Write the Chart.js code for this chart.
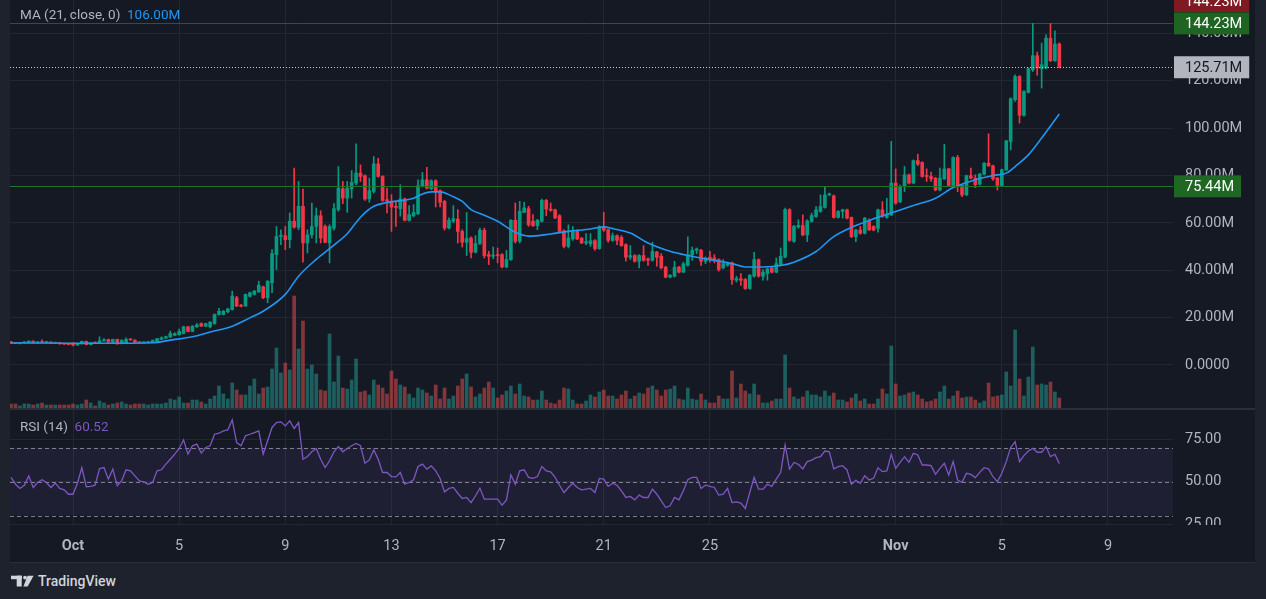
<!DOCTYPE html>
<html>
<head>
<meta charset="utf-8">
<title>MA / RSI 4h chart</title>
<script src="https://cdn.jsdelivr.net/npm/chart.js@4.4.1/dist/chart.umd.min.js"></script>
<style>
  body { margin: 0; width: 1266px; height: 599px; overflow: hidden; background: #1e222d; font-family: Roboto, sans-serif; }
  #pane { position: absolute; left: 10px; top: 0; width: 1245px; height: 562px; background: #151924; }
  #priceBox { position: absolute; left: 0; top: 0; width: 1245px; height: 408px; }
  #sep { position: absolute; left: 0; top: 408px; width: 1245px; height: 2px; background: #2a2e39; }
  #rsiBox { position: absolute; left: 0; top: 410px; width: 1245px; height: 152px; }
  #bottomLine { position: absolute; left: 10px; top: 562px; width: 1245px; height: 1px; background: #2a2e39; }
  .legend { position: absolute; left: 10px; font-size: 13.5px; color: #b2b5be; white-space: nowrap; }
  #logo { position: absolute; left: 11px; top: 573px; display: flex; align-items: center; color: #d1d4dc; font-size: 14px; font-weight: 500; }
</style>
</head>
<body>
<div id="pane">
  <div id="priceBox"><canvas id="priceChart" width="1245" height="408"></canvas></div>
  <div id="sep"></div>
  <div id="rsiBox"><canvas id="rsiChart" width="1245" height="152"></canvas></div>
  <div class="legend" style="top:6px">MA (21, close, 0)&nbsp;&nbsp;<span style="color:#2196f3">106.00M</span></div>
  <div class="legend" style="top:418px">RSI (14)&nbsp;&nbsp;<span style="color:#7e57c2">60.52</span></div>
</div>
<div id="bottomLine"></div>
<div id="logo">
  <svg width="23" height="13" viewBox="0 0 23 13" style="margin-right:4px">
    <rect x="0" y="0.7" width="11" height="3.5" fill="#d1d4dc"/>
    <rect x="5.7" y="0.7" width="5" height="10.8" fill="#d1d4dc"/>
    <circle cx="14" cy="2.6" r="1.9" fill="#d1d4dc"/>
    <polygon points="16.6,0.7 22.6,0.7 16.6,11.5 12.4,11.5" fill="#d1d4dc"/>
  </svg>
  <span>TradingView</span>
</div>

<script>
// 4h candles, index 0 = Oct 1 00:00, values in millions
const firstIndex = -14;

const opens = [
  9.8, 9.4, 9.1, 9.4, 9.4, 10.1, 9.3, 9.8, 9.5, 9.7,
  9.2, 9.5, 8.9, 9.0, 9.3, 8.4, 8.9, 10.0, 8.6, 9.4,
  9.2, 10.2, 10.8, 9.6, 10.8, 9.0, 9.4, 10.8, 10.5, 9.6,
  9.4, 9.5, 9.5, 10.0, 10.8, 11.3, 11.8, 12.5, 12.8, 13.3,
  16.1, 14.2, 16.1, 17.5, 16.4, 16.1, 17.4, 21.3, 21.3, 22.5,
  23.4, 28.4, 25.2, 24.9, 29.0, 29.8, 30.9, 33.0, 28.4, 34.7,
  46.6, 54.3, 54.6, 52.9, 60.7, 58.1, 67.0, 51.5, 55.0, 58.5,
  63.0, 58.5, 51.5, 57.8, 65.6, 74.4, 70.5, 74.4, 76.8, 81.0,
  79.9, 70.1, 73.3, 84.9, 79.6, 69.8, 69.1, 66.7, 66.0, 70.1,
  61.1, 63.0, 63.9, 75.4, 78.2, 74.4, 77.8, 73.6, 69.1, 57.8,
  60.7, 61.6, 56.4, 51.8, 53.6, 47.6, 51.3, 56.9, 46.6, 45.9,
  46.4, 46.6, 41.4, 44.5, 61.1, 52.2, 64.4, 66.0, 60.7, 58.8,
  60.7, 69.5, 65.8, 65.5, 63.0, 56.7, 50.1, 53.2, 56.7, 53.5,
  51.5, 51.2, 52.5, 49.1, 58.3, 57.1, 52.6, 54.6, 53.9, 50.8,
  45.5, 46.2, 43.8, 46.2, 44.8, 44.2, 47.7, 45.9, 41.3, 37.1,
  37.5, 41.3, 39.2, 42.1, 46.5, 48.4, 48.4, 43.8, 45.5, 45.2,
  44.5, 41.0, 42.0, 43.1, 35.8, 36.4, 36.1, 32.3, 37.5, 44.5,
  37.5, 38.6, 41.0, 39.2, 42.4, 45.6, 65.6, 52.2, 58.3, 58.9,
  54.9, 60.6, 62.7, 64.8, 66.5, 71.8, 71.4, 62.3, 64.8, 65.5,
  62.3, 54.2, 57.0, 55.6, 60.6, 58.5, 57.7, 65.5, 62.3, 63.4,
  76.8, 68.9, 75.4, 80.3, 76.8, 86.3, 85.5, 79.9, 79.6, 78.9,
  73.9, 78.6, 82.8, 75.8, 87.6, 75.8, 71.8, 79.9, 78.9, 76.3,
  80.6, 85.2, 84.1, 78.9, 75.8, 82.4, 94.4, 112.0, 121.8, 105.4,
  115.1, 124.6, 130.6, 125.1, 125.4, 138.0, 128.5, 135.5
];
const highs = [
  9.9, 9.5, 9.6, 9.8, 10.2, 10.2, 9.9, 10.6, 9.9, 9.8,
  9.6, 9.6, 9.1, 9.1, 9.4, 9.1, 10.1, 10.1, 9.6, 9.8,
  11.9, 11.1, 10.9, 10.9, 10.9, 10.6, 11.5, 11.1, 10.6, 9.8,
  9.7, 9.8, 10.6, 11.3, 11.9, 12.2, 14.3, 13.6, 15.2, 16.4,
  16.3, 16.6, 17.5, 17.8, 17.7, 18.3, 21.6, 23.9, 23.0, 24.0,
  31.2, 29.0, 25.6, 30.0, 30.8, 31.5, 35.4, 33.3, 35.6, 48.7,
  58.5, 57.1, 58.5, 64.2, 83.1, 77.5, 74.3, 57.1, 68.4, 66.3,
  65.1, 59.2, 59.2, 68.1, 83.8, 77.5, 77.5, 82.1, 93.4, 84.5,
  80.3, 78.9, 88.0, 87.3, 79.9, 74.7, 71.9, 69.1, 76.1, 70.5,
  67.3, 67.7, 78.2, 81.3, 83.5, 78.2, 78.2, 74.0, 69.5, 62.1,
  67.3, 65.6, 57.1, 64.4, 54.1, 54.6, 57.8, 57.8, 48.0, 49.8,
  49.4, 47.0, 48.4, 61.4, 68.4, 69.1, 68.7, 67.0, 63.5, 61.5,
  70.0, 69.9, 68.4, 65.8, 63.5, 57.1, 59.2, 58.5, 57.1, 53.9,
  55.5, 55.5, 53.0, 58.8, 64.4, 57.4, 55.7, 55.0, 54.6, 51.2,
  50.4, 46.6, 46.6, 50.4, 45.2, 51.8, 48.0, 47.0, 41.7, 38.2,
  43.8, 41.7, 43.4, 54.1, 49.8, 49.4, 48.8, 45.6, 48.0, 46.6,
  44.8, 44.5, 43.4, 43.4, 37.5, 38.6, 36.5, 38.2, 47.6, 44.8,
  40.3, 41.0, 41.3, 45.2, 49.4, 66.3, 66.0, 59.0, 61.3, 63.4,
  61.3, 64.1, 66.9, 71.8, 75.4, 72.6, 71.8, 65.2, 65.8, 65.8,
  62.5, 57.3, 58.5, 62.3, 61.7, 58.8, 65.8, 69.0, 70.4, 94.4,
  82.8, 76.0, 83.8, 80.6, 86.6, 89.0, 85.8, 82.8, 81.4, 79.2,
  83.1, 93.2, 83.1, 87.9, 88.5, 76.1, 80.2, 83.1, 80.3, 80.9,
  85.5, 97.6, 84.4, 79.2, 82.7, 94.9, 112.8, 122.5, 122.2, 115.9,
  125.5, 144.23, 132.1, 135.9, 139.4, 144.2, 141.1, 136.0
];
const lows = [
  9.0, 9.0, 8.9, 9.3, 9.3, 9.2, 9.2, 9.4, 9.3, 9.1,
  9.0, 8.8, 8.7, 8.5, 8.1, 8.3, 8.8, 8.5, 8.5, 9.0,
  9.0, 10.1, 9.5, 9.4, 8.8, 8.9, 9.3, 10.4, 9.4, 9.3,
  9.3, 9.4, 9.4, 9.9, 10.7, 11.2, 11.6, 12.3, 12.6, 13.1,
  14.0, 14.0, 15.9, 16.2, 16.2, 15.6, 17.2, 21.0, 21.1, 22.0,
  23.2, 24.6, 24.5, 24.7, 28.6, 29.5, 30.6, 28.0, 26.3, 30.5,
  40.3, 50.8, 48.7, 49.4, 57.8, 57.1, 43.4, 47.3, 53.6, 51.5,
  51.5, 51.5, 43.1, 56.9, 64.9, 68.1, 64.4, 70.5, 76.1, 77.5,
  69.5, 68.7, 72.6, 79.3, 69.1, 64.2, 56.4, 58.5, 62.8, 60.8,
  60.7, 62.5, 63.5, 75.1, 74.3, 74.0, 66.7, 66.7, 56.9, 57.4,
  60.0, 51.5, 49.8, 46.2, 45.2, 47.3, 50.8, 45.2, 42.4, 44.8,
  43.1, 41.0, 41.0, 44.2, 51.5, 51.5, 64.2, 58.5, 58.5, 57.1,
  60.3, 63.0, 64.9, 61.8, 56.0, 49.4, 49.4, 52.6, 52.9, 51.2,
  50.8, 50.1, 48.4, 48.8, 56.4, 51.8, 52.2, 50.8, 50.1, 43.8,
  44.5, 43.4, 41.0, 43.8, 42.0, 43.8, 41.7, 40.6, 36.8, 36.8,
  37.1, 38.9, 38.9, 41.7, 44.2, 47.0, 42.0, 42.8, 43.4, 43.1,
  39.6, 40.6, 41.7, 34.0, 35.0, 33.6, 31.9, 32.0, 37.1, 37.1,
  35.8, 35.8, 38.9, 38.9, 42.1, 45.2, 52.2, 51.8, 57.7, 54.6,
  52.1, 60.3, 62.3, 64.5, 66.2, 71.4, 62.0, 62.0, 62.0, 61.7,
  53.8, 52.1, 55.2, 55.3, 56.8, 56.6, 56.1, 62.3, 62.0, 63.0,
  67.9, 68.5, 73.2, 76.5, 76.5, 84.2, 79.3, 77.5, 77.5, 73.5,
  73.5, 78.3, 75.5, 75.5, 73.2, 71.1, 71.5, 78.6, 74.9, 76.0,
  80.3, 83.8, 77.9, 73.9, 75.5, 82.1, 90.8, 111.3, 102.1, 105.0,
  114.8, 123.9, 122.3, 116.9, 125.0, 128.1, 128.2, 125.4
];
const closes = [
  9.1, 9.1, 9.4, 9.6, 10.1, 9.3, 9.8, 9.5, 9.7, 9.2,
  9.5, 8.9, 8.8, 8.6, 8.4, 9.0, 10.0, 8.6, 9.4, 9.2,
  10.2, 10.5, 9.6, 10.8, 8.9, 10.5, 10.8, 10.6, 9.5, 9.4,
  9.5, 9.6, 10.4, 11.1, 11.5, 12.0, 13.3, 13.3, 14.2, 16.1,
  14.2, 16.4, 16.9, 16.4, 17.5, 18.1, 21.3, 22.7, 22.7, 23.6,
  29.1, 24.9, 24.8, 29.8, 30.5, 31.2, 33.7, 28.4, 35.4, 47.0,
  54.3, 54.8, 52.9, 60.7, 58.2, 67.0, 51.5, 55.0, 58.5, 63.0,
  53.6, 51.8, 58.5, 66.0, 74.7, 70.5, 74.7, 77.1, 81.0, 79.6,
  70.1, 73.6, 84.9, 79.6, 69.5, 69.1, 66.7, 66.5, 70.1, 61.1,
  63.5, 64.4, 75.7, 78.2, 74.7, 77.8, 73.3, 68.7, 57.8, 61.1,
  61.8, 56.4, 51.8, 53.4, 47.6, 51.3, 56.9, 46.2, 45.9, 46.4,
  46.2, 41.4, 44.5, 61.1, 52.2, 64.9, 66.3, 59.2, 58.8, 61.1,
  69.5, 65.8, 65.3, 62.1, 56.4, 50.1, 53.6, 56.7, 53.2, 51.5,
  52.1, 52.5, 49.1, 58.3, 56.9, 52.6, 54.6, 52.6, 50.4, 45.5,
  46.2, 43.8, 46.2, 44.2, 44.2, 48.0, 45.5, 41.0, 37.1, 37.9,
  41.3, 39.2, 42.7, 46.6, 48.4, 49.0, 43.8, 45.2, 44.8, 44.5,
  40.3, 42.8, 42.8, 36.1, 36.5, 35.8, 32.3, 37.9, 44.5, 37.5,
  39.2, 40.6, 39.2, 42.8, 45.9, 65.6, 52.6, 58.5, 59.0, 54.9,
  60.8, 63.1, 65.5, 66.9, 71.8, 72.2, 62.3, 64.8, 65.5, 62.0,
  54.2, 57.0, 55.6, 62.0, 57.0, 57.0, 65.5, 62.7, 63.7, 76.8,
  68.3, 75.4, 80.3, 76.8, 86.3, 84.8, 79.6, 79.6, 78.6, 73.9,
  78.9, 82.8, 75.8, 87.6, 75.8, 71.8, 79.9, 78.9, 76.1, 80.6,
  85.2, 84.1, 78.6, 75.8, 82.4, 94.6, 112.4, 121.8, 105.4, 115.5,
  125.1, 130.6, 125.4, 126.8, 138.0, 128.5, 135.5, 125.71
];
const volumes = [
  4, 4, 2, 4, 4, 3, 4, 5, 3, 3,
  3, 3, 3, 3, 4, 3, 4, 8, 5, 2,
  7, 5, 3, 4, 5, 6, 4, 3, 4, 4,
  4, 3, 4, 4, 4, 5, 9, 8, 11, 5,
  5, 8, 8, 6, 4, 9, 12, 22, 14, 9,
  25, 18, 13, 13, 22, 29, 14, 20, 21, 39,
  60, 35, 45, 38, 112, 59, 87, 39, 43, 34,
  18, 17, 74, 26, 52, 20, 19, 28, 49, 16,
  17, 13, 28, 23, 20, 14, 37, 29, 23, 21,
  14, 10, 20, 18, 15, 12, 23, 9, 20, 9,
  12, 22, 29, 34, 21, 11, 14, 20, 26, 20,
  10, 13, 17, 22, 14, 24, 12, 11, 8, 8,
  17, 8, 5, 4, 8, 20, 19, 8, 4, 4,
  7, 13, 11, 16, 18, 12, 12, 9, 13, 17,
  9, 12, 15, 14, 20, 22, 18, 12, 18, 19,
  22, 9, 8, 20, 9, 8, 14, 8, 5, 5,
  12, 9, 9, 37, 10, 24, 17, 14, 24, 13,
  5, 5, 7, 9, 9, 53, 20, 11, 9, 11,
  17, 13, 13, 11, 17, 12, 15, 8, 8, 6,
  10, 14, 7, 9, 4, 4, 9, 19, 14, 62,
  24, 12, 13, 15, 16, 13, 9, 6, 7, 9,
  16, 22, 9, 12, 17, 10, 11, 11, 8, 5,
  7, 25, 11, 12, 13, 36, 22, 78, 29, 12,
  31, 61, 23, 24, 23, 26, 16, 10
];
const rsiValues = [
  52.4, 48.4, 45.9, 47.8, 53.3, 46.5, 49.4, 51.0, 49.4, 46.5,
  49.0, 45.9, 45.1, 42.5, 42.5, 49.0, 58.2, 46.9, 47.1, 47.8,
  57.6, 58.2, 51.4, 57.3, 47.5, 50.4, 56.9, 56.3, 53.3, 50.4,
  49.8, 48.4, 49.4, 56.3, 56.9, 60.2, 63.1, 66.1, 69.4, 74.5,
  66.1, 71.0, 72.0, 66.7, 70.0, 71.0, 77.8, 78.4, 79.8, 80.4,
  86.3, 72.9, 71.0, 76.9, 77.8, 78.8, 79.8, 66.1, 74.0, 81.8,
  84.7, 85.1, 82.7, 85.7, 81.2, 84.7, 63.1, 64.7, 67.5, 69.4,
  63.1, 58.2, 62.2, 67.5, 70.6, 67.5, 69.4, 71.0, 72.4, 71.0,
  60.8, 62.7, 68.6, 63.1, 55.3, 55.3, 52.9, 52.7, 55.3, 48.4,
  49.4, 51.0, 58.8, 60.2, 57.3, 59.2, 56.3, 51.8, 43.9, 45.9,
  46.5, 43.1, 40.0, 40.6, 37.6, 41.6, 46.1, 39.6, 39.6, 39.6,
  39.6, 36.1, 39.2, 53.9, 48.4, 56.3, 56.9, 52.4, 51.8, 52.9,
  58.8, 56.3, 55.7, 52.4, 47.8, 43.5, 46.5, 49.0, 46.5, 45.1,
  45.5, 45.9, 43.5, 51.8, 51.4, 47.1, 49.0, 47.8, 44.5, 40.6,
  41.2, 39.2, 42.0, 40.6, 40.6, 45.5, 42.5, 38.6, 34.7, 35.7,
  40.6, 39.2, 44.5, 51.0, 52.4, 52.4, 45.9, 47.8, 47.1, 46.5,
  42.0, 42.5, 45.9, 37.6, 38.0, 37.3, 34.1, 43.5, 52.4, 45.5,
  45.5, 48.4, 47.1, 51.4, 55.3, 71.4, 57.3, 61.2, 60.1, 57.4,
  61.7, 62.6, 64.0, 64.6, 67.9, 67.5, 57.4, 58.7, 59.3, 56.8,
  48.3, 50.7, 48.9, 53.4, 50.9, 51.9, 58.1, 55.8, 56.2, 66.0,
  57.7, 61.3, 64.6, 61.3, 66.6, 65.6, 59.7, 59.7, 59.3, 54.2,
  57.7, 60.7, 53.8, 61.7, 50.9, 49.5, 54.8, 54.2, 52.3, 55.4,
  58.1, 57.4, 52.8, 49.9, 54.8, 61.7, 69.9, 73.4, 61.7, 65.2,
  67.9, 69.5, 67.2, 67.2, 70.5, 64.6, 66.0, 60.5
];

// MA(21) read at a set of candle indices
const maIndex = [
  -14, 0, 11, 18, 22, 27, 31, 36, 40, 43,
  48, 51, 55, 59, 62, 65, 68, 71, 77, 79,
  81, 83, 86, 88, 90, 93, 96, 100, 103, 108,
  112, 117, 120, 122, 126, 130, 135, 139, 144, 149,
  152, 156, 160, 163, 168, 172, 177, 181, 186, 190,
  195, 199, 204, 208, 211, 213, 216, 219, 223
];
const maValues = [
  9.3, 9.2, 9.2, 9.4, 10.5, 11.9, 13.9, 16.4, 19.9, 22.7,
  29.8, 37.5, 44.6, 50.6, 55.4, 62.4, 67.0, 68.6, 70.4, 72.2,
  73.1, 73.1, 71.0, 69.1, 65.6, 63.2, 60.7, 56.0, 54.4, 55.3,
  56.4, 57.4, 58.3, 57.6, 55.7, 51.5, 48.0, 46.2, 44.5, 42.8,
  41.4, 41.4, 42.0, 43.4, 47.9, 54.2, 58.9, 61.7, 64.8, 67.3,
  70.4, 74.9, 78.2, 80.0, 81.0, 83.8, 88.7, 95.8, 106.0
];

const dayTicks = [0, 24, 48, 72, 96, 120, 144, 186, 210, 234];
const dayLabels = ["Oct", "5", "9", "13", "17", "21", "25", "Nov", "5", "9"];
const priceTicks = [0, 20, 40, 60, 80, 100, 120, 140];
const priceTickLabels = ["0.0000", "20.00M", "40.00M", "60.00M", "80.00M", "100.00M", "120.00M", "140.00M"];
const rsiTicks = [25, 50, 75];
const rsiTickLabels = ["25.00", "50.00", "75.00"];
const rsiLevels = [70, 50, 30];

const highPrice = 144.23;
const lastPrice = 125.71;
const levelPrice = 75.44;

// view / style
const xMin = -14.244, xMax = 248.70;
const priceMin = -18.16, priceMax = 154.1;
const rsiMin = 25, rsiMax = 92.06;
const volScaleMax = 408;
const upColor = "#089981", downColor = "#f23645";
const upVol = "rgba(38,166,154,0.5)", downVol = "rgba(239,83,80,0.5)";
const gridColor = "#232733";
const textColor = "#b2b5be";
const paneBg = "#151924";
const axisWidth = 82;
const font = { family: "Roboto, sans-serif", size: 14.5 };

const candleIdx = opens.map((_, k) => firstIndex + k);
const isUp = (k) => closes[k] >= opens[k];

// keep the plot area flush with the canvas edges
function noPad(a) {
  a.paddingTop = 0; a.paddingBottom = 0; a.paddingLeft = 0; a.paddingRight = 0;
}

function drawTag(ctx, x, yMid, text, bg, fg) {
  ctx.save();
  ctx.font = "14.5px Roboto, sans-serif";
  const w = ctx.measureText(text).width + 18;
  ctx.fillStyle = bg;
  ctx.fillRect(x, yMid - 11, w, 22);
  ctx.fillStyle = fg;
  ctx.textBaseline = "middle";
  ctx.fillText(text, x + 11, yMid + 1);
  ctx.restore();
}

// price lines and tags on the right axis
const priceTags = {
  id: "priceTags",
  afterDatasetsDraw(chart) {
    const { ctx, chartArea, scales } = chart;
    const yHigh = scales.y.getPixelForValue(highPrice);
    const yLast = scales.y.getPixelForValue(lastPrice);
    const yLevel = scales.y.getPixelForValue(levelPrice);
    ctx.save();
    ctx.lineWidth = 1;
    ctx.strokeStyle = "rgba(242,54,69,0.5)";
    ctx.beginPath();
    ctx.moveTo(chartArea.left, Math.round(yHigh) + 0.5);
    ctx.lineTo(chartArea.right, Math.round(yHigh) + 0.5);
    ctx.stroke();
    ctx.strokeStyle = "#217328";
    ctx.beginPath();
    ctx.moveTo(chartArea.left, Math.round(yLevel) + 0.5);
    ctx.lineTo(chartArea.right, Math.round(yLevel) + 0.5);
    ctx.stroke();
    ctx.strokeStyle = "#c8cad1";
    ctx.setLineDash([1, 2]);
    ctx.beginPath();
    ctx.moveTo(chartArea.left, Math.round(yLast) + 0.5);
    ctx.lineTo(chartArea.right, Math.round(yLast) + 0.5);
    ctx.stroke();
    ctx.restore();
  },
  afterDraw(chart) {
    const { ctx, chartArea, scales } = chart;
    const x = chartArea.right + 1;
    drawTag(ctx, x, chartArea.top + 1, highPrice.toFixed(2) + "M", "#801a22", "#ffffff");
    drawTag(ctx, x, scales.y.getPixelForValue(highPrice), highPrice.toFixed(2) + "M", "#1e6423", "#ffffff");
    drawTag(ctx, x, scales.y.getPixelForValue(lastPrice), lastPrice.toFixed(2) + "M", "#b2b5be", "#131722");
    drawTag(ctx, x, scales.y.getPixelForValue(levelPrice), levelPrice.toFixed(2) + "M", "#1e6823", "#ffffff");
  }
};

new Chart(document.getElementById("priceChart"), {
  type: "bar",
  data: {
    datasets: [
      {
        type: "line",
        label: "MA",
        data: maIndex.map((x, k) => ({ x: x, y: maValues[k] })),
        yAxisID: "y",
        borderColor: "#2196f3",
        borderWidth: 1.6,
        pointRadius: 0,
        cubicInterpolationMode: "monotone",
        order: 0,
      },
      {
        label: "body",
        data: candleIdx.map((x, k) => ({ x: x, y: [opens[k], closes[k]] })),
        yAxisID: "y",
        backgroundColor: (c) => (isUp(c.dataIndex) ? upColor : downColor),
        barThickness: 3,
        minBarLength: 1,
        grouped: false,
        order: 1,
      },
      {
        label: "wick",
        data: candleIdx.map((x, k) => ({ x: x, y: [lows[k], highs[k]] })),
        yAxisID: "y",
        backgroundColor: (c) => (isUp(c.dataIndex) ? upColor : downColor),
        barThickness: 1,
        grouped: false,
        order: 2,
      },
      {
        label: "volume",
        data: candleIdx.map((x, k) => ({ x: x, y: volumes[k] })),
        yAxisID: "yVol",
        backgroundColor: (c) => (isUp(c.dataIndex) ? upVol : downVol),
        barThickness: 3,
        grouped: false,
        order: 3,
      },
    ],
  },
  options: {
    responsive: false,
    animation: false,
    layout: { padding: 0 },
    plugins: { legend: { display: false }, tooltip: { enabled: false } },
    scales: {
      x: {
        type: "linear",
        min: xMin,
        max: xMax,
        offset: false,
        afterBuildTicks: (a) => { a.ticks = dayTicks.map((v) => ({ value: v })); },
        afterFit: (a) => { a.height = 0; noPad(a); },
        ticks: { display: false },
        grid: { color: gridColor, drawTicks: false, offset: false },
        border: { display: false },
      },
      y: {
        type: "linear",
        position: "right",
        min: priceMin,
        max: priceMax,
        afterBuildTicks: (a) => { a.ticks = priceTicks.map((v) => ({ value: v })); },
        afterFit: (a) => { a.width = axisWidth; noPad(a); },
        ticks: { callback: (v, i) => priceTickLabels[i], color: textColor, font: font, padding: 12 },
        grid: { color: gridColor, drawTicks: false },
        border: { display: false },
      },
      yVol: { display: false, min: 0, max: volScaleMax, afterFit: noPad },
    },
  },
  plugins: [priceTags],
});

// RSI band, levels and clipped axis corner
const rsiBand = {
  id: "rsiBand",
  beforeDatasetsDraw(chart) {
    const { ctx, chartArea, scales } = chart;
    const y70 = scales.y.getPixelForValue(70);
    const y30 = scales.y.getPixelForValue(30);
    ctx.save();
    ctx.fillStyle = "rgba(126,87,194,0.1)";
    ctx.fillRect(chartArea.left, y70, chartArea.right - chartArea.left, y30 - y70);
    ctx.strokeStyle = "rgba(178,181,190,0.65)";
    ctx.lineWidth = 1;
    ctx.setLineDash([4, 3]);
    rsiLevels.forEach((lv) => {
      const y = Math.round(scales.y.getPixelForValue(lv)) + 0.5;
      ctx.beginPath();
      ctx.moveTo(chartArea.left, y);
      ctx.lineTo(chartArea.right, y);
      ctx.stroke();
    });
    ctx.restore();
  },
  afterDraw(chart) {
    const { ctx, chartArea, width, height } = chart;
    ctx.save();
    ctx.fillStyle = paneBg;
    ctx.fillRect(chartArea.right, chartArea.bottom + 1, width - chartArea.right, height - chartArea.bottom);
    ctx.restore();
  }
};

new Chart(document.getElementById("rsiChart"), {
  type: "line",
  data: {
    datasets: [
      {
        label: "RSI",
        data: candleIdx.map((x, k) => ({ x: x, y: rsiValues[k] })),
        borderColor: "#7e57c2",
        borderWidth: 1.3,
        pointRadius: 0,
        tension: 0,
      },
    ],
  },
  options: {
    responsive: false,
    animation: false,
    layout: { padding: 0 },
    plugins: { legend: { display: false }, tooltip: { enabled: false } },
    scales: {
      x: {
        type: "linear",
        min: xMin,
        max: xMax,
        afterBuildTicks: (a) => { a.ticks = dayTicks.map((v) => ({ value: v })); },
        afterFit: (a) => { a.height = 38; noPad(a); },
        ticks: {
          autoSkip: false,
          maxRotation: 0,
          callback: (v, i) => dayLabels[i],
          color: textColor,
          font: (c) => ({ family: font.family, size: 14.5, weight: isNaN(dayLabels[c.index]) ? "bold" : "normal" }),
          padding: 14,
        },
        grid: { color: gridColor, drawTicks: false },
        border: { display: false },
      },
      y: {
        type: "linear",
        position: "right",
        min: rsiMin,
        max: rsiMax,
        afterBuildTicks: (a) => { a.ticks = rsiTicks.map((v) => ({ value: v })); },
        afterFit: (a) => { a.width = axisWidth; noPad(a); },
        ticks: { callback: (v, i) => rsiTickLabels[i], color: textColor, font: font, padding: 12 },
        grid: { color: gridColor, drawTicks: false },
        border: { display: false },
      },
    },
  },
  plugins: [rsiBand],
});
</script>
</body>
</html>
